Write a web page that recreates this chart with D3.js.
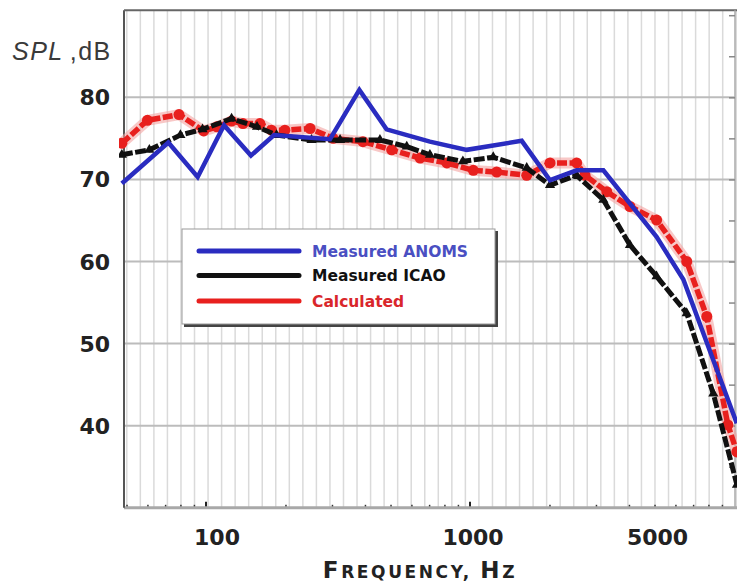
<!DOCTYPE html>
<html>
<head>
<meta charset="utf-8">
<script src="https://cdn.jsdelivr.net/npm/d3@7"></script>
<style>
  html, body { margin: 0; padding: 0; background: #fff; }
  svg { display: block; }
</style>
</head>
<body>
<svg id="chart" width="737" height="583"></svg>
<script>
// ====== DATA ======
const anomsFreq = [48, 72, 93, 117, 148, 181, 295, 381, 483, 705, 972, 1570, 2010, 2535, 3200, 5090, 6430, 10240];
const anomsDb   = [69.5, 74.5, 70.3, 76.6, 72.9, 75.4, 74.9, 80.9, 76.1, 74.6, 73.6, 74.7, 69.9, 71.1, 71.1, 63.0, 57.8, 40.3];

const icaoFreq = [48, 61, 80, 97, 125, 156, 185, 251, 322, 456, 576, 705, 940, 1225, 1640, 2010, 2535, 3200, 4035, 5090, 6620, 8350, 10260];
const icaoDb   = [73.0, 73.6, 75.4, 76.1, 77.4, 76.4, 75.4, 74.8, 74.8, 74.8, 74.0, 73.0, 72.2, 72.7, 71.4, 69.3, 70.5, 67.5, 62.0, 58.2, 53.7, 43.9, 32.8];

const calcFreq = [48, 60, 79, 98, 110, 125, 138, 160, 177, 199, 248, 303, 393, 505, 647, 817, 1029, 1262, 1640, 2010, 2535, 2728, 3297, 4035, 5093, 6620, 7886, 9480, 10250];
const calcDb   = [74.4, 77.2, 77.9, 75.9, 76.4, 77.1, 76.8, 76.8, 76.0, 76.0, 76.2, 75.0, 74.6, 73.6, 72.6, 72.0, 71.1, 70.9, 70.5, 72.0, 72.0, 70.5, 68.5, 66.7, 65.05, 60.0, 53.3, 40.1, 36.8];

const xTickLabels = [100, 1000, 5000];
const yTickLabels = [40, 50, 60, 70, 80];
const legendLabels = ['Measured ANOMS', 'Measured ICAO', 'Calculated'];

// ====== SETUP ======
const svg = d3.select('#chart');

const x = d3.scaleLog().domain([100, 1000]).range([206, 470]);
const y = d3.scaleLinear().domain([30, 80]).range([507.8, 97.3]);

const plotLeft = 124, plotRight = 735;
const plotTop = y(90.6), plotBottom = y(30);

const blue = '#2a2cc0';
const red = '#e8201e';
const black = '#111';

// clip
svg.append('clipPath').attr('id', 'plotClip')
    .append('rect')
    .attr('x', 119).attr('y', plotTop)
    .attr('width', 737 - 119).attr('height', plotBottom - plotTop);

// ====== GRID ======
// vertical lines, evenly spaced on the log axis
const gridFreqs = d3.range(0, 46).map(k => Math.pow(10, 1.7 + k * 0.0513));
svg.append('g')
    .selectAll('line')
    .data(gridFreqs)
    .enter()
    .append('line')
    .attr('x1', d => x(d)).attr('x2', d => x(d))
    .attr('y1', plotTop).attr('y2', plotBottom)
    .attr('stroke', '#dadada')
    .attr('stroke-width', 1.5);

// horizontal lines every 10 dB
svg.append('g')
    .selectAll('line')
    .data(yTickLabels)
    .enter()
    .append('line')
    .attr('x1', plotLeft).attr('x2', plotRight)
    .attr('y1', d => y(d)).attr('y2', d => y(d))
    .attr('stroke', '#bcbcbc')
    .attr('stroke-width', 2);

// ====== AXES ======
// bottom axis with log minor ticks
const minorTicks = [];
[10, 100, 1000].forEach(dec => {
    for (let m = 2; m <= 9; m++) {
        const f = dec * m;
        if (f > 49.5 && f < 10200) minorTicks.push(f);
    }
});
const xAxis = svg.append('g')
    .attr('transform', `translate(0,${plotBottom})`)
    .call(d3.axisBottom(x).tickValues(minorTicks).tickSize(-3).tickSizeOuter(0).tickFormat(''));
xAxis.select('.domain').remove();
xAxis.selectAll('line').attr('stroke', '#333').attr('stroke-width', 1.5);

svg.append('g')
    .selectAll('line')
    .data([100, 1000])
    .enter()
    .append('line')
    .attr('x1', d => x(d)).attr('x2', d => x(d))
    .attr('y1', plotBottom - 6).attr('y2', plotBottom)
    .attr('stroke', '#222')
    .attr('stroke-width', 2);

svg.append('line')
    .attr('x1', plotLeft).attr('x2', 737)
    .attr('y1', plotBottom).attr('y2', plotBottom)
    .attr('stroke', '#a8a8a8').attr('stroke-width', 3);

// left axis line and top border
svg.append('line')
    .attr('x1', plotLeft).attr('x2', plotLeft)
    .attr('y1', plotTop).attr('y2', plotBottom)
    .attr('stroke', '#555').attr('stroke-width', 2);
svg.append('line')
    .attr('x1', plotLeft).attr('x2', 737)
    .attr('y1', plotTop).attr('y2', plotTop)
    .attr('stroke', '#666').attr('stroke-width', 2);

// right border with inward ticks every 5 dB
const yAxisR = svg.append('g')
    .attr('transform', `translate(${plotRight},0)`)
    .call(d3.axisRight(y).tickValues(d3.range(35, 91, 5)).tickSize(-6).tickSizeOuter(0).tickFormat(''));
yAxisR.select('.domain').attr('stroke', '#aaa').attr('stroke-width', 1.5)
    .attr('d', `M0,${plotTop}V${plotBottom}`);
yAxisR.selectAll('line').attr('stroke', '#888').attr('stroke-width', 1.5);

// tick labels
svg.append('g')
    .selectAll('text')
    .data(yTickLabels)
    .enter()
    .append('text')
    .attr('x', 110)
    .attr('y', d => y(d) + 8)
    .attr('text-anchor', 'end')
    .attr('font-family', 'DejaVu Sans, sans-serif')
    .attr('font-weight', 'bold')
    .attr('font-size', 22)
    .attr('fill', '#222')
    .text(d => d);

svg.append('g')
    .selectAll('text')
    .data(xTickLabels)
    .enter()
    .append('text')
    .attr('x', d => x(d) + (d === 100 ? 11 : 3))
    .attr('y', 545)
    .attr('text-anchor', 'middle')
    .attr('font-family', 'DejaVu Sans, sans-serif')
    .attr('font-weight', 'bold')
    .attr('font-size', 22)
    .attr('fill', '#222')
    .text(d => d);

// axis titles
const yTitle = svg.append('text')
    .attr('x', 12).attr('y', 60)
    .attr('font-family', 'Liberation Sans, Arial, sans-serif')
    .attr('font-size', 25)
    .attr('fill', '#3a3a3a');
yTitle.append('tspan').attr('font-style', 'italic').attr('letter-spacing', 1.5).text('SPL');
yTitle.append('tspan').attr('dx', 6).attr('letter-spacing', 1.5).text(',dB');

const xTitle = svg.append('text')
    .attr('x', 420).attr('y', 578)
    .attr('text-anchor', 'middle')
    .attr('font-family', 'DejaVu Sans, sans-serif')
    .attr('font-weight', 'bold')
    .attr('letter-spacing', 2.6)
    .attr('fill', '#222');
xTitle.append('tspan').attr('font-size', 23).text('F');
xTitle.append('tspan').attr('font-size', 17).text('REQUENCY, ');
xTitle.append('tspan').attr('font-size', 23).text('H');
xTitle.append('tspan').attr('font-size', 17).text('Z');

// ====== SERIES ======
const plot = svg.append('g').attr('clip-path', 'url(#plotClip)');

function pts(freqs, dbs) {
    return freqs.map((f, i) => [f, dbs[i]]);
}

const line = d3.line()
    .x(d => x(d[0]))
    .y(d => y(d[1]));

const calcPts = pts(calcFreq, calcDb);
const icaoPts = pts(icaoFreq, icaoDb);
const anomsPts = pts(anomsFreq, anomsDb);

// Calculated: red dashes with soft halo and round markers
plot.append('path')
    .datum(calcPts)
    .attr('d', line)
    .attr('fill', 'none')
    .attr('stroke', '#f4a3a1')
    .attr('stroke-width', 11)
    .attr('stroke-linejoin', 'round')
    .attr('opacity', 0.6);
plot.append('path')
    .datum(calcPts)
    .attr('d', line)
    .attr('fill', 'none')
    .attr('stroke', red)
    .attr('stroke-width', 5.5)
    .attr('stroke-dasharray', '10,2.5');
plot.append('g')
    .selectAll('circle')
    .data(calcPts)
    .enter()
    .append('circle')
    .attr('cx', d => x(d[0]))
    .attr('cy', d => y(d[1]))
    .attr('r', 5.5)
    .attr('fill', red);

// Measured ICAO: black dashes with small markers
plot.append('path')
    .datum(icaoPts)
    .attr('d', line)
    .attr('fill', 'none')
    .attr('stroke', black)
    .attr('stroke-width', 5)
    .attr('stroke-dasharray', '11,2.5');
plot.append('g')
    .selectAll('path')
    .data(icaoPts)
    .enter()
    .append('path')
    .attr('transform', d => `translate(${x(d[0])},${y(d[1])})`)
    .attr('d', d3.symbol().type(d3.symbolTriangle).size(45))
    .attr('fill', black);

// Measured ANOMS: solid blue
plot.append('path')
    .datum(anomsPts)
    .attr('d', line)
    .attr('fill', 'none')
    .attr('stroke', blue)
    .attr('stroke-width', 4.5)
    .attr('stroke-linejoin', 'miter');

// ====== LEGEND ======
const legend = svg.append('g');
legend.append('rect')
    .attr('x', 184).attr('y', 231)
    .attr('width', 314).attr('height', 96)
    .attr('fill', '#444');
legend.append('rect')
    .attr('x', 182).attr('y', 229)
    .attr('width', 313).attr('height', 95)
    .attr('fill', '#fff')
    .attr('stroke', '#999')
    .attr('stroke-width', 1);

const legendColors = [blue, black, red];
const legendText = ['#4a4fc2', '#111', '#d9262b'];
const legendY = [251, 275.5, 301];

legend.selectAll('line.key')
    .data(legendLabels)
    .enter()
    .append('line')
    .attr('class', 'key')
    .attr('x1', 199).attr('x2', 299)
    .attr('y1', (d, i) => legendY[i]).attr('y2', (d, i) => legendY[i])
    .attr('stroke', (d, i) => legendColors[i])
    .attr('stroke-width', 5)
    .attr('stroke-linecap', 'round');

legend.selectAll('text')
    .data(legendLabels)
    .enter()
    .append('text')
    .attr('x', 312)
    .attr('y', (d, i) => legendY[i] + 5.5)
    .attr('font-family', 'DejaVu Sans, sans-serif')
    .attr('font-weight', 'bold')
    .attr('font-size', 15.5)
    .attr('fill', (d, i) => legendText[i])
    .text(d => d);
</script>
</body>
</html>
